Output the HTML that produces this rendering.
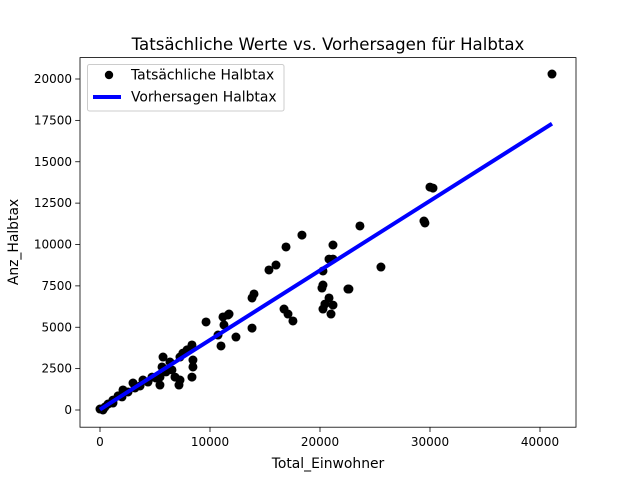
<!DOCTYPE html>
<html><head><meta charset="utf-8"><style>
body{margin:0;background:#fff}
text{font-family:"DejaVu Sans","Liberation Sans",sans-serif;fill:#000}
</style></head><body>
<svg id="c" width="640" height="480">
<rect width="640" height="480" fill="#fff"/>
<text x="328" y="50" font-size="16.6" text-anchor="middle">Tatsächliche Werte vs. Vorhersagen für Halbtax</text>
<text x="328" y="468" font-size="13.9" text-anchor="middle">Total_Einwohner</text>
<text transform="translate(18,242) rotate(-90)" font-size="13.9" text-anchor="middle">Anz_Halbtax</text>
<g id="ticks"></g><g id="pts"></g><g id="ln"></g>
<rect x="80" y="57.6" width="496" height="369.6" fill="none" stroke="#000" stroke-width="0.8"/>
<g>
<rect x="87.5" y="64.5" width="196.5" height="46.5" rx="2" fill="#fff" fill-opacity="0.8" stroke="#ccc"/>
<circle cx="109" cy="75" r="4.2" fill="#000"/>
<text x="131" y="79.5" font-size="13.9">Tatsächliche Halbtax</text>
<line x1="93" y1="97" x2="121" y2="97" stroke="#0000ff" stroke-width="4"/>
<text x="131" y="101.5" font-size="13.9">Vorhersagen Halbtax</text>
</g>
</svg>
<script>
const actualX=[41090,30000,30270,29450,29540,23630,25540,22540,22630,18360,16910,16000,15360,21180,20820,21180,20270,20270,20180,20820,20450,21180,20270,21000,14000,13820,16730,17090,17540,13820,11730,11180,11270,9640,11640,10730,12360,11000,8360,7910,7540,7270,8450,8450,8360,7270,7180,5730,6360,5640,6540,6820,5450,5450,4730,3910,3000,3180,2090,2000,1180,1180,450,270,1640,2550,3640,4360,5090,6000,730,0];
const actualY=[20300,13470,13410,11420,11300,11120,8640,7310,7310,10570,9850,8760,8460,9970,9120,9120,8400,7550,7370,6770,6400,6340,6100,5800,7010,6770,6100,5800,5380,4950,5800,5620,5140,5320,5740,4530,4410,3870,3930,3630,3440,3200,3020,2600,1990,1810,1510,3200,2900,2600,2420,1990,1990,1510,1990,1810,1630,1330,1210,790,600,420,180,0,850,1090,1450,1690,1930,2300,360,60];
const predX=[0,41090];
const predY=[30,17300];
const xTicks=[0,10000,20000,30000,40000];
const yTicks=[0,2500,5000,7500,10000,12500,15000,17500,20000];
const NS='http://www.w3.org/2000/svg';
const xs=v=>100+v*0.011, ys=v=>410-v*0.01655;
function mk(t,a,p){const e=document.createElementNS(NS,t);for(const k in a)e.setAttribute(k,a[k]);document.getElementById(p).appendChild(e);return e;}
xTicks.forEach(v=>{
 const l=mk('line',{x1:xs(v),x2:xs(v),y1:427.2,y2:432,stroke:'#000','stroke-width':0.8},'ticks');
 
 
 const t=mk('text',{x:xs(v),y:446,'font-size':12,'text-anchor':'middle'},'ticks');t.textContent=v;
 
 
});
yTicks.forEach(v=>{
 const l=mk('line',{x1:75.2,x2:80,y1:ys(v),y2:ys(v),stroke:'#000','stroke-width':0.8},'ticks');
 
 
 const t=mk('text',{x:72,y:ys(v)+4,'font-size':12,'text-anchor':'end'},'ticks');t.textContent=v;
 
 
});
actualX.forEach((v,i)=>{
 const c=mk('circle',{cx:xs(v),cy:ys(actualY[i]),r:4.5,fill:'#000'},'pts');
 
 
});
const pl=mk('polyline',{points:predX.map((v,i)=>xs(v)+','+ys(predY[i])).join(' '),fill:'none',stroke:'#0000ff','stroke-width':4},'ln');


</script>
</body></html>
